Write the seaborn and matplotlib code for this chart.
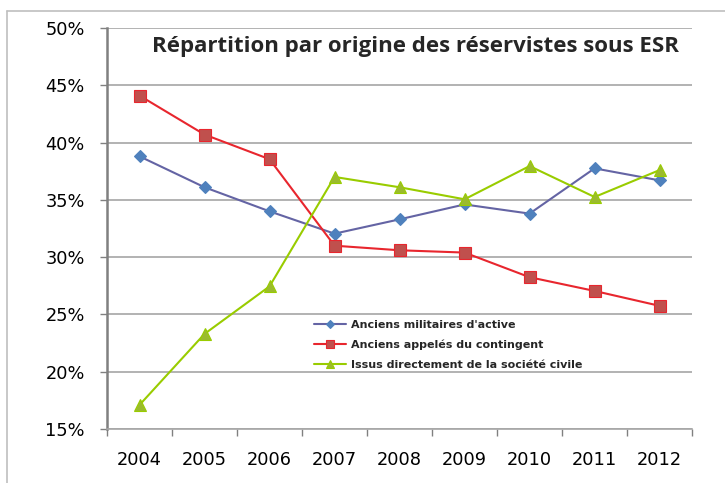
import numpy as np
import pandas as pd
import matplotlib
matplotlib.use('Agg')
import matplotlib.pyplot as plt
from matplotlib.lines import Line2D
from matplotlib.ticker import FuncFormatter, FixedLocator
import seaborn as sns

years = ['2004', '2005', '2006', '2007', '2008', '2009', '2010', '2011', '2012']
militaires = [38.8, 36.1, 34.0, 32.05, 33.3, 34.6, 33.8, 37.75, 36.7]
appeles = [44.1, 40.7, 38.55, 31.0, 30.6, 30.4, 28.25, 27.05, 25.75]
civils = [17.1, 23.3, 27.45, 37.0, 36.1, 35.05, 37.95, 35.25, 37.6]

labels = ["Anciens militaires d'active",
          "Anciens appelés du contingent",
          "Issus directement de la société civile"]

sns.set_style('white')
plt.rcParams['font.family'] = ['DejaVu Sans']

fig = plt.figure(figsize=(7.25, 4.83), dpi=100)
ax = fig.add_axes([0.1476, 0.1118, 0.807, 0.8302])

x = np.arange(len(years))
series = [
    (militaires, labels[0], '#6464A4', '#4F81BD', '#4F81BD', 'D', 6),
    (appeles, labels[1], '#E8262E', '#C0504D', '#E8262E', 's', 8),
    (civils, labels[2], '#99CC00', '#9BBB2E', '#99CC00', '^', 9),
]
for vals, lab, lc, mfc, mec, mk, ms in series:
    sns.lineplot(x=x, y=vals, ax=ax, color=lc, marker=mk, markersize=ms,
                 markerfacecolor=mfc, markeredgecolor=mec, markeredgewidth=0.8,
                 linewidth=1.5, label=lab)

ax.set_xlim(-0.5, len(years) - 0.5)
ax.set_ylim(15, 50)
ax.set_yticks(np.arange(15, 51, 5))
ax.yaxis.set_major_formatter(FuncFormatter(lambda v, p: '%d%%' % v))
ax.set_xticks(x)
ax.set_xticklabels(years)
ax.xaxis.set_minor_locator(FixedLocator(np.arange(-0.5, len(years), 1)))
ax.tick_params(axis='x', which='major', length=0, pad=16, labelsize=12.8, colors='black')
ax.tick_params(axis='x', which='minor', length=5, width=1, color='#808080', direction='out', bottom=True)
ax.tick_params(axis='y', length=5, width=1, color='#808080', direction='out', left=True,
               pad=11, labelsize=12.8, colors='black')

ax.grid(axis='y', color='#A6A6A6', linewidth=1.2)
ax.set_axisbelow(True)
for side in ['top', 'right']:
    ax.spines[side].set_visible(False)
ax.spines['left'].set_color('#808080')
ax.spines['left'].set_linewidth(1.8)
ax.spines['bottom'].set_color('#A6A6A6')
ax.spines['bottom'].set_linewidth(1.2)
ax.set_xlabel('')
ax.set_ylabel('')

ax.text(0.077, 0.953, 'Répartition par origine des réservistes sous ESR',
        transform=ax.transAxes, ha='left', va='center', fontsize=16,
        fontweight='bold', family='Open Sans')

leg = ax.legend(loc='upper left', bbox_to_anchor=(0.345, 0.285), frameon=False,
                prop={'weight': 'bold', 'size': 8}, handlelength=2.8, markerscale=0.7,
                handletextpad=0.5, labelspacing=0.85, borderpad=0)

# outer chart frame
fig.add_artist(Line2D([0.0097, 0.0097], [0, 0.977], color='#BFBFBF', linewidth=1.2))
fig.add_artist(Line2D([0.0097, 1.0], [0.977, 0.977], color='#BFBFBF', linewidth=1.2))

fig.savefig('out.png', dpi=100)
